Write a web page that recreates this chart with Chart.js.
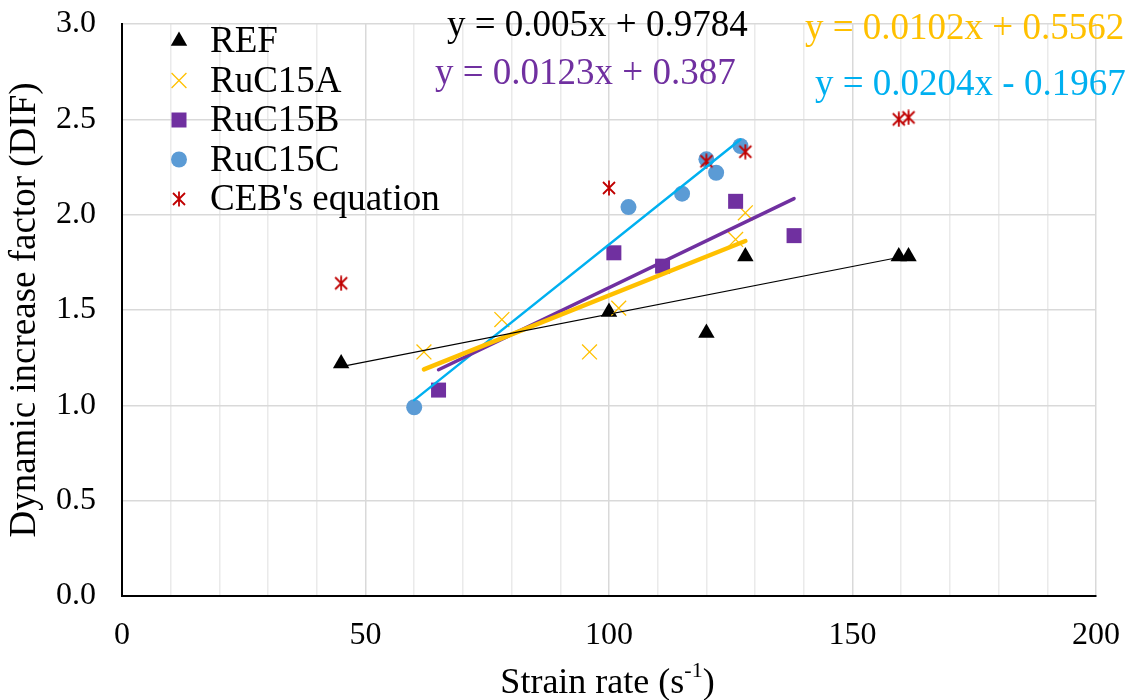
<!DOCTYPE html>
<html>
<head>
<meta charset="utf-8">
<title>Dynamic increase factor</title>
<script src="https://cdn.jsdelivr.net/npm/chart.js@4.4.1/dist/chart.umd.min.js"></script>
<style>
    html, body { margin: 0; padding: 0; background: #ffffff; }
    #idChartDif { display: block; }
</style>
</head>
<body>
<canvas id="idChartDif" width="1132" height="700"></canvas>
<script>
// values
var aRefX = [45, 100, 120, 128, 159.5, 161.5];
var aRefY = [1.22, 1.49, 1.38, 1.78, 1.78, 1.78];
var aRuC15AX = [62, 78, 96, 102, 126, 128];
var aRuC15AY = [1.28, 1.45, 1.28, 1.51, 1.87, 2.01];
var aRuC15BX = [65, 101, 111, 126, 138];
var aRuC15BY = [1.08, 1.80, 1.73, 2.07, 1.89];
var aRuC15CX = [60, 104, 115, 120, 122, 127];
var aRuC15CY = [0.99, 2.04, 2.11, 2.29, 2.22, 2.36];
var aCebX = [45, 100, 120, 128, 159.5, 161.5];
var aCebY = [1.64, 2.14, 2.28, 2.33, 2.50, 2.51];

// linear trendlines as printed on the chart: REF, RuC15A, RuC15B, RuC15C
var aTrendSlope = [0.005, 0.0102, 0.0123, 0.0204];
var aTrendIntercept = [0.9784, 0.5562, 0.387, -0.1967];
var aTrendLabels = ['y = 0.005x + 0.9784', 'y = 0.0102x + 0.5562', 'y = 0.0123x + 0.387', 'y = 0.0204x - 0.1967'];

var aXTicks = [0, 50, 100, 150, 200];
var aYTicks = [0, 0.5, 1, 1.5, 2, 2.5, 3];

var sFont = '"Liberation Serif", "Times New Roman", serif';

document.addEventListener('DOMContentLoaded', function () {
    initChartDif();
});

function toPoints(aX, aY) {
    var aData = [];
    for (var i = 0; i < aX.length; i++) {
        aData.push({ x: aX[i], y: aY[i] });
    }
    return aData;
}

function trendPoints(aX, fSlope, fIntercept) {
    var fMin = Math.min.apply(null, aX);
    var fMax = Math.max.apply(null, aX);
    return [
        { x: fMin, y: fSlope * fMin + fIntercept },
        { x: fMax, y: fSlope * fMax + fIntercept }
    ];
}

// excel style asterisk marker (x with a vertical stroke)
function makeAsterisk(sColor) {
    var oCanvas = document.createElement('canvas');
    oCanvas.width = 16;
    oCanvas.height = 16;
    var ctx = oCanvas.getContext('2d');
    ctx.strokeStyle = sColor;
    ctx.lineWidth = 1.8;
    ctx.beginPath();
    ctx.moveTo(2, 2);
    ctx.lineTo(14, 14);
    ctx.moveTo(14, 2);
    ctx.lineTo(2, 14);
    ctx.moveTo(8, 0.5);
    ctx.lineTo(8, 15.5);
    ctx.stroke();
    return oCanvas;
}

// legend, trendline equations and x title with superscript
const oAnnotations = {
    id: 'annotations',
    afterDraw: function (oChart) {
        var ctx = oChart.ctx;
        var oArea = oChart.chartArea;
        ctx.save();

        ctx.textAlign = 'left';
        ctx.textBaseline = 'alphabetic';
        ctx.font = '37px ' + sFont;

        var iRow = 0;
        oChart.data.datasets.forEach(function (oSet) {
            if (oSet.trend) {
                return;
            }
            var fBase = 52 + 39.5 * iRow;
            ctx.fillStyle = oSet.pointBackgroundColor;
            ctx.strokeStyle = oSet.pointBorderColor;
            ctx.lineWidth = oSet.pointBorderWidth;
            Chart.helpers.drawPoint(ctx, {
                pointStyle: oSet.pointStyle,
                radius: oSet.pointRadius,
                rotation: 0,
                borderWidth: oSet.pointBorderWidth
            }, 179, fBase - 11);
            ctx.fillStyle = '#000000';
            ctx.fillText(oSet.label, 210, fBase);
            iRow++;
        });

        // equations
        ctx.font = '37px ' + sFont;
        ctx.fillStyle = '#000000';
        ctx.fillText(aTrendLabels[0], 447, 36);
        ctx.fillStyle = '#FFC000';
        ctx.fillText(aTrendLabels[1], 805, 39);
        ctx.fillStyle = '#7030A0';
        ctx.fillText(aTrendLabels[2], 435, 84);
        ctx.fillStyle = '#00B0F0';
        ctx.fillText(aTrendLabels[3], 815, 95);

        // x axis title
        var sMain = 'Strain rate (s';
        var sSup = '-1';
        var sEnd = ')';
        ctx.fillStyle = '#000000';
        ctx.font = '36px ' + sFont;
        var fMain = ctx.measureText(sMain).width;
        var fEnd = ctx.measureText(sEnd).width;
        ctx.font = '22px ' + sFont;
        var fSup = ctx.measureText(sSup).width;
        var fLeft = (oArea.left + oArea.right) / 2 - 1.5 - (fMain + fSup + fEnd) / 2;
        ctx.font = '36px ' + sFont;
        ctx.fillText(sMain, fLeft, 693);
        ctx.fillText(sEnd, fLeft + fMain + fSup, 693);
        ctx.font = '22px ' + sFont;
        ctx.fillText(sSup, fLeft + fMain, 677);

        ctx.restore();
    }
};

function initChartDif() {

    var aTrendColors = ['#000000', '#FFC000', '#7030A0', '#00B0F0'];
    var aTrendWidths = [1.2, 4.5, 3.5, 2.5];
    var aTrendX = [aRefX, aRuC15AX, aRuC15BX, aRuC15CX];

    var aDatasets = [
        {
            label: 'REF',
            data: toPoints(aRefX, aRefY),
            pointStyle: 'triangle',
            pointRadius: 9.5,
            pointBackgroundColor: '#000000',
            pointBorderColor: '#000000',
            pointBorderWidth: 0,
            order: 5
        },
        {
            label: 'RuC15A',
            data: toPoints(aRuC15AX, aRuC15AY),
            pointStyle: 'crossRot',
            pointRadius: 10.5,
            pointBackgroundColor: '#FFC000',
            pointBorderColor: '#FFC000',
            pointBorderWidth: 1.3,
            order: 4
        },
        {
            label: 'RuC15B',
            data: toPoints(aRuC15BX, aRuC15BY),
            pointStyle: 'rect',
            pointRadius: 10.6,
            pointBackgroundColor: '#7030A0',
            pointBorderColor: '#7030A0',
            pointBorderWidth: 0,
            order: 3
        },
        {
            label: 'RuC15C',
            data: toPoints(aRuC15CX, aRuC15CY),
            pointStyle: 'circle',
            pointRadius: 8,
            pointBackgroundColor: '#5B9BD5',
            pointBorderColor: '#5B9BD5',
            pointBorderWidth: 0,
            order: 2
        },
        {
            label: "CEB's equation",
            data: toPoints(aCebX, aCebY),
            pointStyle: makeAsterisk('#C00000'),
            pointRadius: 8,
            pointBackgroundColor: '#C00000',
            pointBorderColor: '#C00000',
            pointBorderWidth: 0,
            order: 1
        }
    ];

    for (var i = 0; i < aTrendSlope.length; i++) {
        aDatasets.push({
            label: '',
            trend: true,
            data: trendPoints(aTrendX[i], aTrendSlope[i], aTrendIntercept[i]),
            showLine: true,
            borderColor: aTrendColors[i],
            borderWidth: aTrendWidths[i],
            borderCapStyle: 'round',
            pointRadius: 0,
            order: 0
        });
    }

    const config = {
        type: 'scatter',
        data: {
            datasets: aDatasets
        },
        options: {
            responsive: false,
            animation: false,
            events: [],
            layout: {
                padding: { left: 0, right: 36, top: 24, bottom: 0 }
            },
            plugins: {
                legend: { display: false },
                tooltip: { enabled: false }
            },
            scales: {
                x: {
                    type: 'linear',
                    min: 0,
                    max: 200,
                    afterFit: function (oScale) {
                        oScale.height = 104;
                        oScale.paddingLeft = 0;
                        oScale.paddingRight = 0;
                    },
                    afterBuildTicks: function (oScale) {
                        var aTicks = [];
                        for (var v = 0; v <= 200; v += 10) {
                            aTicks.push({ value: v });
                        }
                        oScale.ticks = aTicks;
                    },
                    ticks: {
                        autoSkip: false,
                        maxRotation: 0,
                        padding: 20,
                        color: '#000000',
                        font: { family: sFont, size: 32 },
                        callback: function (v) { return aXTicks.indexOf(v) > -1 ? String(v) : ''; }
                    },
                    grid: {
                        drawTicks: false,
                        lineWidth: 1.5,
                        color: function (oCtx) {
                            return oCtx.tick && oCtx.tick.value % 50 === 0 ? '#D9D9D9' : '#EAEAEA';
                        }
                    },
                    border: { color: '#000000', width: 2 }
                },
                y: {
                    min: 0,
                    max: 3,
                    afterFit: function (oScale) {
                        oScale.width = 122;
                        oScale.paddingTop = 0;
                        oScale.paddingBottom = 0;
                    },
                    afterBuildTicks: function (oScale) {
                        oScale.ticks = aYTicks.map(function (v) { return { value: v }; });
                    },
                    ticks: {
                        padding: 26,
                        color: '#000000',
                        font: { family: sFont, size: 32 },
                        callback: function (v) { return v.toFixed(1); }
                    },
                    grid: {
                        drawTicks: false,
                        lineWidth: 1.5,
                        color: '#D9D9D9'
                    },
                    border: { color: '#000000', width: 2 },
                    title: {
                        display: true,
                        text: 'Dynamic increase factor (DIF)',
                        color: '#000000',
                        font: { family: sFont, size: 37, lineHeight: 1 },
                        padding: { top: 7, bottom: 0 }
                    }
                }
            }
        },
        plugins: [oAnnotations]
    };

    const oChartDif = new Chart(
        document.getElementById('idChartDif'),
        config
    );
}
</script>
</body>
</html>
